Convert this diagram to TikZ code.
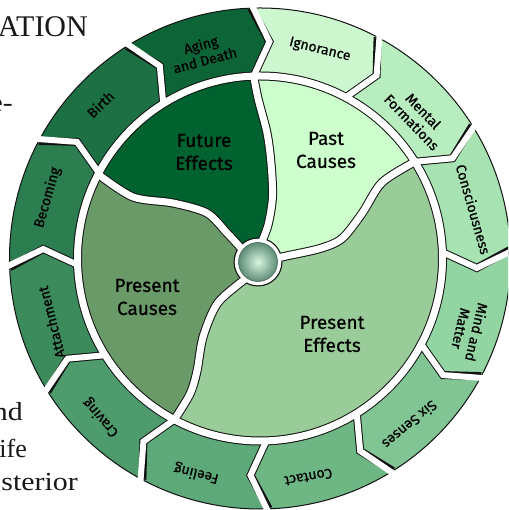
\documentclass[tikz,border=0pt]{standalone}
\usepackage{fontspec}
\newfontfamily\labfont{Fira Sans}[FakeBold=0.6]
\newfontfamily\pagefont{Liberation Serif}
\definecolor{segIgn}{HTML}{CCF7CF}
\definecolor{segMen}{HTML}{B8EDC0}
\definecolor{segCon}{HTML}{A6E2B2}
\definecolor{segMind}{HTML}{93D4A3}
\definecolor{segSix}{HTML}{80C593}
\definecolor{segCont}{HTML}{6FB685}
\definecolor{segFeel}{HTML}{5EA97A}
\definecolor{segCrav}{HTML}{4E9B6D}
\definecolor{segAtt}{HTML}{3C8B5D}
\definecolor{segBec}{HTML}{2C7D4F}
\definecolor{segBir}{HTML}{1C7043}
\definecolor{segAge}{HTML}{0D6537}
\definecolor{regFut}{HTML}{00622F}
\definecolor{regPast}{HTML}{CCFFCC}
\definecolor{regPEff}{HTML}{99CC99}
\definecolor{regPCau}{HTML}{6A9A68}
\definecolor{sphIn}{HTML}{D8F5DE}
\definecolor{sphOut}{HTML}{5E8C78}
\definecolor{edge}{HTML}{111111}
\begin{document}
\begin{tikzpicture}[x=1pt,y=1pt,
  lbl/.style={font=\labfont\fontsize{14}{16}\selectfont, align=center, inner sep=0pt, text=black},
  big/.style={font=\labfont\fontsize{19}{23}\selectfont, align=center, inner sep=0pt, text=black},
  pagetext/.style={font=\pagefont\fontsize{26}{30}\selectfont, anchor=base east, inner sep=0pt, text=black!90},
  blackband/.style={draw=edge, line width=9},
  whiteband/.style={draw=white, line width=7},
  chevB/.style={draw=edge, line width=8},
  chevW/.style={draw=white, line width=6}]
\useasboundingbox (0,0) rectangle (508,510);
\clip (0,0) rectangle (508,510);
\fill[white] (0,0) rectangle (508,510);
% page text behind the wheel
\node[pagetext, font=\pagefont\fontsize{30}{34}\selectfont] (t1) at (88,473) {ATION};
\node[pagetext, xscale=1.15] (t2) at (13,398) {e-};
\node[pagetext, xscale=1.15] (t3) at (23,89) {nd};
\node[pagetext] (t4) at (27,52) {ife};
\node[pagetext, xscale=1.15] (t5) at (78,19) {sterior};
\def\R{250.5}\def\Rm{182.5}\def\Rt{217}\def\dl{4.5}\def\Rx{255}
\begin{scope}[shift={(260,251.5)}]
% outer segments
\foreach \b/\col in {92/segIgn,62/segMen,32/segCon,2/segMind,-28/segSix,-58/segCont,-88/segFeel,-118/segCrav,-148/segAtt,182/segBec,152/segBir,122/segAge}{
  \fill[\col] (\b:\R) arc[start angle=\b, end angle=\b-30, radius=\R] -- ({\b-30-\dl}:\Rt) -- ({\b-30}:\Rm) arc[start angle=\b-30, end angle=\b, radius=\Rm] -- ({\b-\dl}:\Rt) -- cycle;
}
% inner regions
\fill[regFut] plot[smooth] coordinates {(-0.8,10.4) (8,33.5) (12.5,62) (11,95) (7,125.5) (-2,160) (92:182.5)} arc[start angle=92, end angle=152.5, radius=\Rm] -- plot[smooth] coordinates {(152.5:182.5) (-127,61.5) (-87,55.5) (-53,45.5) (-33,25.5) (-20,11.5) (-14.1,3.5)} -- cycle;
\fill[regPast] plot[smooth] coordinates {(11.8,-1.1) (24,2) (60,10) (82,20) (102,45) (122,76) (32:182.5)} arc[start angle=32, end angle=92, radius=\Rm] -- plot[smooth] coordinates {(92:182.5) (-2,160) (7,125.5) (11,95) (12.5,62) (8,33.5) (-0.8,10.4)} -- cycle;
\fill[regPEff] plot[smooth] coordinates {(-8,-16) (-20,-24.5) (-43,-45.5) (-57,-78.5) (-63,-112.5) (-70,-135.5) (242:182.5)} arc[start angle=242, end angle=392, radius=\Rm] -- plot[smooth] coordinates {(32:182.5) (122,76) (102,45) (82,20) (60,10) (24,2) (11.8,-1.1)} -- cycle;
\fill[regPCau] plot[smooth] coordinates {(-14.1,3.5) (-20,11.5) (-33,25.5) (-53,45.5) (-87,55.5) (-127,61.5) (152.5:182.5)} arc[start angle=152.5, end angle=242, radius=\Rm] -- plot[smooth] coordinates {(242:182.5) (-70,-135.5) (-63,-112.5) (-57,-78.5) (-43,-45.5) (-20,-24.5) (-8,-16)} -- cycle;
% black phase
\draw[edge, line width=1] (0,0) circle (\R);
\draw[blackband] (0,0) circle (\Rm);
\begin{scope}
\clip (0,0) circle (\R);
\foreach \b in {2,32,...,332}{
  \draw[chevB] (\b:\Rm) -- ({\b-\dl}:\Rt) -- (\b:\R);
}
\end{scope}
\draw[blackband] plot[smooth] coordinates {(-0.8,10.4) (8,33.5) (12.5,62) (11,95) (7,125.5) (-2,160) (92:182.5)};
\draw[blackband] plot[smooth] coordinates {(11.8,-1.1) (24,2) (60,10) (82,20) (102,45) (122,76) (32:182.5)};
\draw[blackband] plot[smooth] coordinates {(-8,-16) (-20,-24.5) (-43,-45.5) (-57,-78.5) (-63,-112.5) (-70,-135.5) (242:182.5)};
\draw[blackband] plot[smooth] coordinates {(-14.1,3.5) (-20,11.5) (-33,25.5) (-53,45.5) (-87,55.5) (-127,61.5) (152.5:182.5)};
\fill[edge] (-2,-3.5) circle (24.5);
% white phase
\draw[whiteband] (0,0) circle (\Rm);
\foreach \b in {2,32,...,332}{
  \draw[chevW] (\b:\Rm) -- ({\b-\dl}:\Rt) -- (\b:\Rx);
}
\draw[whiteband] plot[smooth] coordinates {(-0.8,10.4) (8,33.5) (12.5,62) (11,95) (7,125.5) (-2,160) (92:182.5)};
\draw[whiteband] plot[smooth] coordinates {(11.8,-1.1) (24,2) (60,10) (82,20) (102,45) (122,76) (32:182.5)};
\draw[whiteband] plot[smooth] coordinates {(-8,-16) (-20,-24.5) (-43,-45.5) (-57,-78.5) (-63,-112.5) (-70,-135.5) (242:182.5)};
\draw[whiteband] plot[smooth] coordinates {(-14.1,3.5) (-20,11.5) (-33,25.5) (-53,45.5) (-87,55.5) (-127,61.5) (152.5:182.5)};
\fill[white] (-2,-3.5) circle (23.3);
% central sphere
\shade[inner color=sphIn, outer color=sphOut] (-2,-3.5) circle (19.5);
\draw[sphOut!70!black, line width=0.6] (-2,-3.5) circle (19.5);
% outer labels
\node[lbl, rotate=-14] (lIgn) at (74:217) {Ignorance};
\node[lbl, rotate=-46] (lMen) at (42:212) {Mental\\Formations};
\node[lbl, rotate=-74] (lCon) at (13:219) {Consciousness};
\node[lbl, rotate=-103] (lMind) at (-19:221) {Mind and\\Matter};
\node[lbl, rotate=-140] (lSix) at (-48:224) {Six Senses};
\node[lbl, rotate=-170] (lCont) at (-77.5:224) {Contact};
\node[lbl, rotate=166] (lFeel) at (-106.5:224) {Feeling};
\node[lbl, rotate=131] (lCrav) at (-135:225) {Craving};
\node[lbl, rotate=104] (lAtt) at (-163:218) {Attachment};
\node[lbl, rotate=74] (lBec) at (164:221) {Becoming};
\node[lbl, rotate=44] (lBir) at (136:222) {Birth};
\node[lbl, rotate=15] (lAge) at (105.5:214) {Aging\\and Death};
\end{scope}
% inner labels
\node[big] (fut) at (204,358) {Future\\Effects};
\node[big] (past) at (326,360) {Past\\Causes};
\node[big] (pcau) at (147,213) {Present\\Causes};
\node[big] (peff) at (332,176) {Present\\Effects};
\end{tikzpicture}
\end{document}
